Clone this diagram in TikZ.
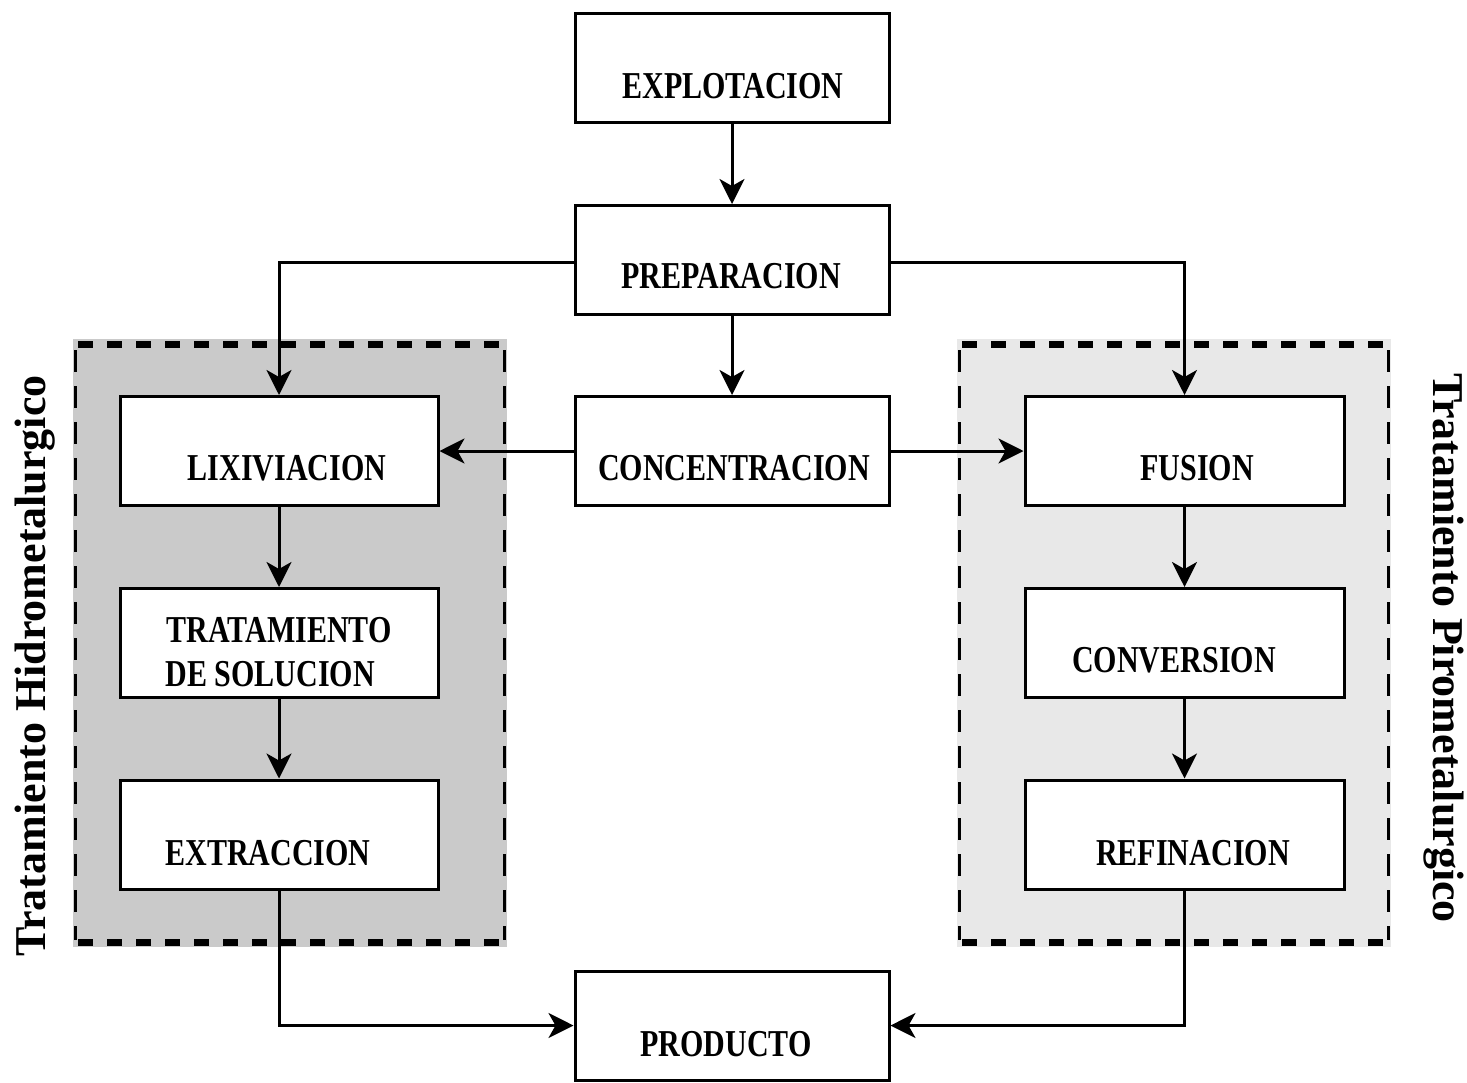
\documentclass[tikz,border=0pt]{standalone}
\usepackage{fontspec}
\setmainfont{Liberation Serif}
\usetikzlibrary{arrows.meta}
\newcommand{\bt}[1]{\scalebox{0.79}[1]{\fontsize{19}{22}\selectfont\bfseries #1}}
\tikzset{
  box/.style={draw, line width=1.5pt, fill=white, minimum height=54.5pt, inner sep=0pt},
  cbox/.style={box, minimum width=157pt},
  lbox/.style={box, minimum width=159pt},
  rbox/.style={box, minimum width=159.5pt},
  btxt/.style={anchor=base, inner sep=0pt},
  conn/.style={line width=1.5pt, -{Stealth[length=12.5pt, width=12.5pt, inset=3.5pt]}},
  thickdash/.style={line width=3.5pt, dash pattern=on 7.5pt off 7pt},
  thindash/.style={line width=1.5pt, dash pattern=on 11pt off 7pt},
  side/.style={inner sep=0pt, anchor=base, font=\fontsize{22}{26}\selectfont\bfseries}
}
\begin{document}
\begin{tikzpicture}[x=0.5pt, y=-0.5pt]
\useasboundingbox (0,0) rectangle (1467,1082);
% regions
\fill[fill={rgb,255:red,202;green,202;blue,202}] (73,339) rectangle (507,947);
\fill[fill={rgb,255:red,232;green,232;blue,232}] (957,339) rectangle (1391,947);
\draw[thickdash] (78,344) -- (504,344);
\draw[thickdash] (78,942) -- (504,942);
\draw[thindash] (75,350) -- (75,940);
\draw[thindash] (504.5,350) -- (504.5,940);
\draw[thickdash] (962,344) -- (1388,344);
\draw[thickdash] (962,942) -- (1388,942);
\draw[thindash] (959,350) -- (959,940);
\draw[thindash] (1388,350) -- (1388,940);
% boxes
\node[cbox] (expl) at (732,68) {};
\node[cbox] (prep) at (732,260) {};
\node[cbox] (conc) at (732,451) {};
\node[cbox] (prod) at (732,1025.5) {};
\node[lbox] (lix) at (279,451) {};
\node[lbox] (trat) at (279,643) {};
\node[lbox] (extr) at (279,834.5) {};
\node[rbox] (fus) at (1184.5,451) {};
\node[rbox] (conv) at (1184.5,643) {};
\node[rbox] (ref) at (1184.5,834.5) {};
% texts
\node[btxt] (texpl) at (733,98) {\bt{EXPLOTACION}};
\node[btxt] (tprep) at (731,288) {\bt{PREPARACION}};
\node[btxt] (tconc) at (734,480) {\bt{CONCENTRACION}};
\node[btxt] (tlix) at (287,480) {\bt{LIXIVIACION}};
\node[btxt, anchor=base west] (ttrat1) at (166,642) {\bt{TRATAMIENTO}};
\node[btxt, anchor=base west] (ttrat2) at (165,686) {\bt{DE SOLUCION}};
\node[btxt] (textr) at (268,865) {\bt{EXTRACCION}};
\node[btxt] (tfus) at (1197,480) {\bt{FUSION}};
\node[btxt] (tconv) at (1174,672) {\bt{CONVERSION}};
\node[btxt] (tref) at (1193,865) {\bt{REFINACION}};
\node[btxt] (tprod) at (726,1056) {\bt{PRODUCTO}};
% side labels
\node[side, rotate=90] (hidro) at (45,666) {Tratamiento Hidrometalurgico};
\node[side, rotate=-90] (piro) at (1433,648) {Tratamiento Pirometalurgico};
% connectors
\draw[conn] (expl) -- (prep);
\draw[conn] (prep) -- (conc);
\draw[conn] ([yshift=-1pt]prep.west) -| (lix.north);
\draw[conn] ([yshift=-1pt]prep.east) -| (fus.north);
\draw[conn] (conc.west) -- (lix.east);
\draw[conn] (conc.east) -- (fus.west);
\draw[conn] (lix) -- (trat);
\draw[conn] (trat) -- (extr);
\draw[conn] (fus) -- (conv);
\draw[conn] (conv) -- (ref);
\draw[conn] (extr.south) |- (prod.west);
\draw[conn] (ref.south) |- (prod.east);
\end{tikzpicture}
\end{document}
